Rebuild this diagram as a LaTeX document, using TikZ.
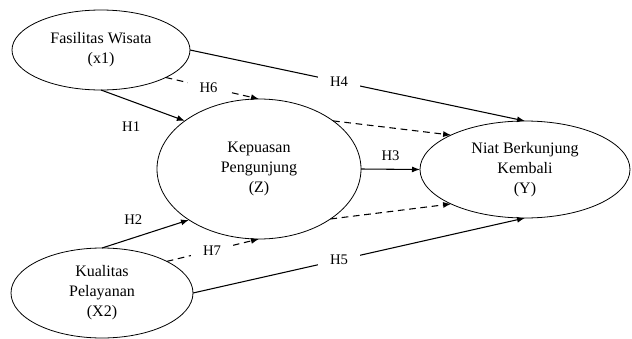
\documentclass[tikz,border=0pt]{standalone}
\usepackage{fontspec}
\setmainfont{Liberation Serif}
\usetikzlibrary{shapes.geometric}
\usetikzlibrary{arrows.meta}

\begin{document}
\begin{tikzpicture}[x=0.75pt,y=-0.75pt,
    var/.style={draw,ellipse,line width=0.6pt,inner sep=0pt,outer sep=0pt,align=center,font=\fontsize{12}{15}\selectfont},
    hyp/.style={-{Latex[length=6pt,width=4.5pt]},line width=0.8pt},
    hypd/.style={hyp,dash pattern=on 5pt off 3.5pt},
    lbl/.style={font=\fontsize{11}{13}\selectfont,inner sep=1pt},
    gap/.style={lbl,fill=white,inner xsep=9pt}]
    % 画布
    \useasboundingbox (0,0) rectangle (632,339);

    % 变量
    \node[var,minimum width=133.5pt,minimum height=60pt] (fasilitas) at (101,50) {Fasilitas Wisata\\(x1)};
    \node[var,minimum width=153pt,minimum height=105pt] (kepuasan) at (259,169) {Kepuasan\\Pengunjung\\(Z)};
    \node[var,minimum width=157.5pt,minimum height=72.75pt] (niat) at (525,169.5) {Niat Berkunjung\\Kembali\\(Y)};
    \node[var,minimum width=136.5pt,minimum height=67.5pt] (kualitas) at (102,293) {Kualitas\\Pelayanan\\(X2)};

    % 直接效应
    \draw[hyp] (fasilitas.south) -- node[lbl,pos=.36,below=14pt] (h1) {H1} (kepuasan.147);
    \draw[hyp] (kualitas.north) -- node[lbl,pos=.36,above=9pt] (h2) {H2} (kepuasan.216);
    \draw[hyp] (kepuasan.east) -- node[lbl,midway,above=5pt] (h3) {H3} (niat.west);
    \draw[hyp] (fasilitas.east) -- node[gap,pos=.445] (h4) {H4} (niat.north);
    \draw[hyp] (kualitas.east) -- node[gap,pos=.44] (h5) {H5} (niat.south);

    % 中介效应
    \draw[hypd] (fasilitas.-23) -- node[gap,pos=.46] (h6) {H6} (kepuasan.north);
    \draw[hypd] (kualitas.26) -- node[gap,pos=.49] (h7) {H7} (kepuasan.south);
    \draw[hypd] (kepuasan.33) -- (niat.155);
    \draw[hypd] (kepuasan.-35) -- (niat.205);
\end{tikzpicture}
\end{document}
